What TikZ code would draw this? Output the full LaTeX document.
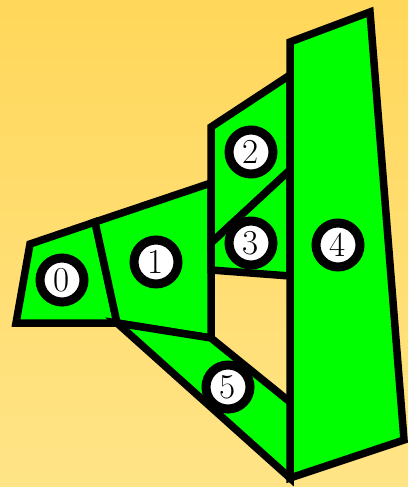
\documentclass[tikz,border=0pt]{standalone}
\usepackage{tikz}
\definecolor{bgtop}{HTML}{FFD75A}
\definecolor{bgbot}{HTML}{FFE487}
\definecolor{cellgreen}{HTML}{00FF00}
\tikzset{
  cell/.style={fill=cellgreen,draw=black,line width=7.5pt,line join=miter},
  tag/.style={circle,fill=white,draw=black,line width=9pt,minimum size=44pt,inner sep=0pt,
    font=\fontsize{35}{35}\selectfont}
}
\begin{document}
\begin{tikzpicture}[x=1pt,y=-1pt]
\shade[top color=bgtop,bottom color=bgbot] (0,0) rectangle (408,487);
\useasboundingbox (0,0) rectangle (408,487);

\coordinate (a) at (30,244);  \coordinate (b) at (95,222);
\coordinate (c) at (117,323); \coordinate (d) at (16,323);
\coordinate (e) at (211,183); \coordinate (f) at (211,338);
\coordinate (g) at (211,127); \coordinate (h) at (290,75);
\coordinate (i) at (290,170); \coordinate (j) at (211,243);
\coordinate (k) at (290,276); \coordinate (l) at (211,270);
\coordinate (m) at (290,42);  \coordinate (n) at (370,12);
\coordinate (o) at (404,440); \coordinate (p) at (290,478);
\coordinate (q) at (290,402);

\draw[cell] (a) -- (b) -- (c) -- (d) -- cycle;
\draw[cell] (b) -- (e) -- (f) -- (c) -- cycle;
\draw[cell] (g) -- (h) -- (i) -- (j) -- cycle;
\draw[cell] (j) -- (i) -- (k) -- (l) -- cycle;
\draw[cell] (m) -- (n) -- (o) -- (p) -- cycle;
\draw[cell] (c) -- (f) -- (q) -- (p) -- cycle;

\node[tag] (t0) at (62,280) {0};
\node[tag] (t1) at (156,262) {1};
\node[tag] (t2) at (251,152) {2};
\node[tag] (t3) at (251,243) {3};
\node[tag] (t4) at (338,245) {4};
\node[tag] (t5) at (228,387) {5};
\end{tikzpicture}
\end{document}
